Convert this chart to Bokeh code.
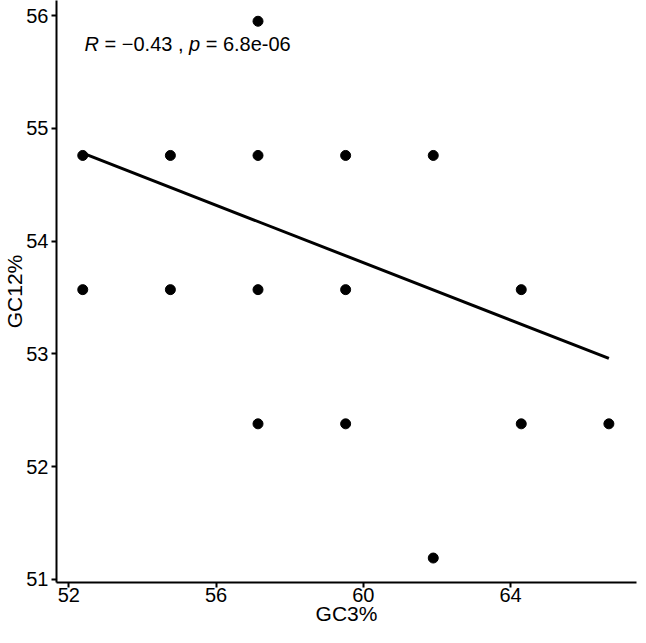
from bokeh.plotting import figure
from bokeh.models import Range1d, FixedTicker, Label
from bokeh.embed import file_html
from bokeh.resources import INLINE

# data points (GC3%, GC12%)
gc3 = [57.14,
       52.38, 54.76, 57.14, 59.52, 61.90,
       52.38, 54.76, 57.14, 59.52, 64.29,
       57.14, 59.52, 64.29, 66.67,
       61.90]
gc12 = [55.95,
        54.76, 54.76, 54.76, 54.76, 54.76,
        53.57, 53.57, 53.57, 53.57, 53.57,
        52.38, 52.38, 52.38, 52.38,
        51.19]

# regression line end points
fit_x = [52.38, 66.67]
fit_y = [54.78, 52.96]

x_ticks = [52, 56, 60, 64]
y_ticks = [51, 52, 53, 54, 55, 56]

FONT = "Liberation Sans"

p = figure(width=638, height=627, output_backend="svg", toolbar_location=None,
           x_range=Range1d(51.667, 67.42), y_range=Range1d(50.973, 56.134),
           min_border_left=54, min_border_right=2, min_border_top=0, min_border_bottom=40)
p.outline_line_color = None
p.background_fill_color = "white"
p.xgrid.visible = False
p.ygrid.visible = False

for ax, ticks in ((p.xaxis, x_ticks), (p.yaxis, y_ticks)):
    ax.ticker = FixedTicker(ticks=ticks)
    ax.minor_tick_line_color = None
    ax.axis_line_width = 2
    ax.axis_line_color = "black"
    ax.major_tick_line_width = 2
    ax.major_tick_line_color = "black"
    ax.major_tick_in = 0
    ax.major_tick_out = 5
    ax.major_label_text_font = FONT
    ax.major_label_text_font_size = "20px"
    ax.major_label_text_color = "black"
    ax.axis_label_text_font = FONT
    ax.axis_label_text_font_size = "21px"
    ax.axis_label_text_font_style = "normal"
    ax.axis_label_text_color = "black"
    ax.axis_label_standoff = -3

p.xaxis.major_label_standoff = 0
p.yaxis.major_label_standoff = 3
p.xaxis.axis_label = "GC3%"
p.yaxis.axis_label = "GC12%"

p.line(fit_x, fit_y, line_color="black", line_width=3)
p.scatter(gc3, gc12, size=10, fill_color="black", line_color="black")

# annotation: R = −0.43 , p = 6.8e-06
ax0 = 52.43
ay0 = 55.75
NB = "\u00a0"
parts = [("R", "italic", 0),
         (NB + "=" + NB + "\u22120.43" + NB + "," + NB, "normal", 14.4),
         ("p", "italic", 104.4),
         (NB + "=" + NB + "6.8e-06", "normal", 115.5)]
for txt, style, off in parts:
    p.add_layout(Label(x=ax0, y=ay0, x_offset=off, text=txt, text_font=FONT,
                       text_font_size="20px", text_font_style=style, text_color="black",
                       text_baseline="alphabetic", text_align="left"))

open("out.html", "w").write(file_html(p, INLINE))
